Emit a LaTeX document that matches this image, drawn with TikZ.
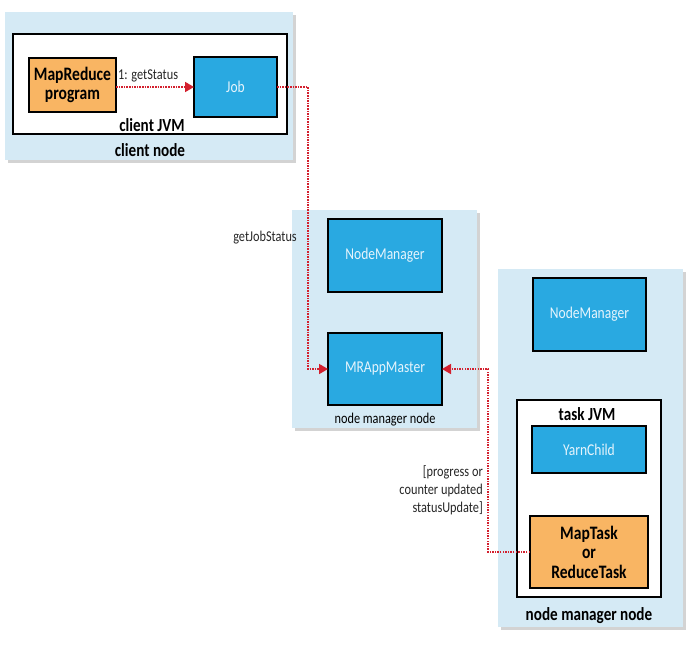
\documentclass[tikz,border=0pt]{standalone}
\usepackage{fontspec}
\setmainfont{Carlito}[FakeStretch=0.82]
\usetikzlibrary{arrows.meta,shadows}
\definecolor{panelblue}{HTML}{D5EAF5}
\definecolor{procblue}{HTML}{29A9E1}
\definecolor{proctext}{HTML}{E6F4FC}
\definecolor{taskorange}{HTML}{F9B563}
\definecolor{flowred}{HTML}{D3202E}

\begin{document}
\begin{tikzpicture}[x=1pt,y=-1pt]
    \tikzset{panel/.style = {shape=rectangle, fill=panelblue, inner sep=0pt, outer sep=0pt,
        drop shadow={shadow xshift=2.5pt, shadow yshift=-2.5pt, opacity=0.35}}}
    \tikzset{jvm/.style = {shape=rectangle, draw=black, line width=1.4pt, fill=white, inner sep=0pt, outer sep=0pt}}
    \tikzset{proc/.style = {shape=rectangle, draw=black, line width=1.4pt, fill=procblue, text=proctext,
        inner sep=0pt, outer sep=0pt, font=\fontsize{16.5}{18}\selectfont}}
    \tikzset{task/.style = {shape=rectangle, draw=black, line width=1.4pt, fill=taskorange, align=center,
        inner sep=0pt, outer sep=0pt, font=\fontsize{19}{19.5}\selectfont\bfseries}}
    \tikzset{title/.style = {font=\fontsize{18.5}{20}\selectfont\bfseries, inner sep=1pt}}
    \tikzset{note/.style = {font=\fontsize{15}{18}\selectfont, text=black!85, inner sep=1pt}}
    \tikzset{flow/.style = {draw=flowred, line width=1.7pt, dash pattern=on 1.5pt off 1.1pt,
        -{Triangle[length=9pt,width=10pt]}}}

    \useasboundingbox (0,0) rectangle (697,649);

    % client node
    \node[panel, minimum width=288pt, minimum height=148pt] (clientnode) at (149,86) {};
    \node[jvm, minimum width=274pt, minimum height=100pt] (clientjvm) at (150,84) {};
    \node[task, minimum width=87pt, minimum height=54pt] (mrprog) at (72.5,85) {MapReduce\\program};
    \node[proc, minimum width=83pt, minimum height=60pt] (job) at (235.5,87) {Job};
    \node[title] (clientjvmlbl) at (152,125) {client JVM};
    \node[title] (clientnodelbl) at (150,150) {client node};

    % node manager node (MRAppMaster)
    \node[panel, minimum width=185pt, minimum height=218pt] (amnode) at (384.5,319) {};
    \node[proc, minimum width=114pt, minimum height=73pt] (nmone) at (385,255.5) {NodeManager};
    \node[proc, minimum width=114pt, minimum height=72pt] (appmaster) at (385,369) {MRAppMaster};
    \node[font=\fontsize{15}{16}\selectfont] (amnodelbl) at (385,420) {node manager node};

    % node manager node (task)
    \node[panel, minimum width=185pt, minimum height=358pt] (tasknode) at (590.5,448) {};
    \node[proc, minimum width=113pt, minimum height=73pt] (nmtwo) at (589.5,314.5) {NodeManager};
    \node[jvm, minimum width=144pt, minimum height=197pt] (taskjvm) at (589,498.5) {};
    \node[title] (taskjvmlbl) at (587,414) {task JVM};
    \node[proc, minimum width=114pt, minimum height=47pt] (yarnchild) at (589,449.5) {YarnChild};
    \node[task, minimum width=118pt, minimum height=72pt] (maptask) at (589,552) {MapTask\\or\\ReduceTask};
    \node[title] (tasknodelbl) at (589,616) {node manager node};

    % edges
    \coordinate (jobturn) at (308,0);
    \coordinate (taskturn) at (488,0);
    \draw[flow] (mrprog.east |- job.west) -- (job.west);
    \node[note, anchor=south west] (getstatus) at (117,83) {1: getStatus};
    \draw[flow] (job.east) -- (job.east -| jobturn) -- (jobturn |- appmaster.west) -- (appmaster.west);
    \node[note, anchor=east] (getjobstatus) at (298,238) {getJobStatus};
    \draw[flow] (maptask.west) -- (maptask.west -| taskturn) -- (taskturn |- appmaster.east) -- (appmaster.east);
    \node[note, anchor=east, align=right] (statusupdate) at (484,490) {[progress or\\counter updated\\statusUpdate]};
\end{tikzpicture}
\end{document}
